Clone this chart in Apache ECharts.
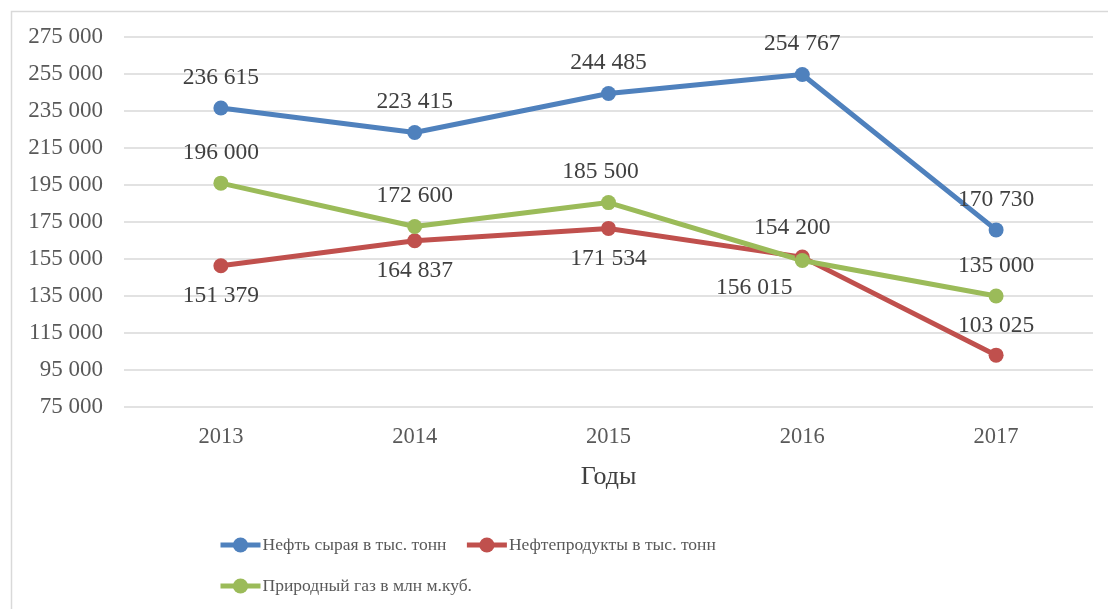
<!DOCTYPE html>
<html><head><meta charset="utf-8">
<script src="https://cdn.jsdelivr.net/npm/echarts@6/dist/echarts.min.js"></script>
<style>html,body{margin:0;padding:0;background:#fff}#c{width:1108px;height:609px}</style>
</head><body><div id="c"></div>
<script>
const years = ['2013','2014','2015','2016','2017'];
const crudeOil = [236615, 223415, 244485, 254767, 170730];
const oilProducts = [151379, 164837, 171534, 156015, 103025];
const naturalGas = [196000, 172600, 185500, 154200, 135000];
const seriesNames = ['Нефть сырая в тыс. тонн', 'Нефтепродукты в тыс. тонн', 'Природный газ в млн м.куб.'];
const xAxisName = 'Годы';

const FONT = '"Liberation Serif", "Times New Roman", serif';
const fmt = v => String(v).replace(/\B(?=(\d{3})+(?!\d))/g, ' ');

function mk(name, values, color, labelPos) {
  return {
    name: name, type: 'line', data: values.map((v, i) => {
      const p = labelPos[i];
      return { value: v, label: { position: p.pos, offset: p.off || [0, 0] } };
    }),
    symbol: 'circle', symbolSize: 15,
    lineStyle: { width: 5, color: color },
    itemStyle: { color: color },
    label: { show: true, distance: 11, fontFamily: FONT, fontSize: 23.5, color: '#404040',
      formatter: p => fmt(p.value) },
    z: 3
  };
}
const T = { pos: 'top' }, B = { pos: 'bottom' };
const legendText = { fontFamily: FONT, fontSize: 17.5, color: '#595959', padding: [0, 0, 0, -3] };
const chart = echarts.init(document.getElementById('c'));
chart.setOption({
  animation: false,
  backgroundColor: '#fff',
  graphic: [{ type: 'rect', left: 9, top: 9, shape: { width: 1200, height: 700 },
    style: { fill: 'none', stroke: '#d9d9d9', lineWidth: 1.5 }, z: -1 }],
  grid: { left: 124, right: 15, top: 37, bottom: 202 },
  legend: [
    { data: [seriesNames[0], seriesNames[1]], left: 213, top: 531, itemWidth: 40, itemHeight: 19,
      itemGap: 18, lineStyle: { width: 5 }, textStyle: legendText },
    { data: [seriesNames[2]], left: 213, top: 572, itemWidth: 40, itemHeight: 19,
      lineStyle: { width: 5 }, textStyle: legendText }
  ],
  xAxis: {
    type: 'category', data: years, boundaryGap: true,
    axisLine: { show: false }, axisTick: { show: false },
    axisLabel: { fontFamily: FONT, fontSize: 22.5, color: '#595959', margin: 19 },
    name: xAxisName, nameLocation: 'middle', nameGap: 57,
    nameTextStyle: { fontFamily: FONT, fontSize: 26, color: '#404040' }
  },
  yAxis: {
    type: 'value', min: 75000, max: 275000, interval: 20000,
    axisLine: { show: false }, axisTick: { show: false },
    axisLabel: { fontFamily: FONT, fontSize: 23, color: '#595959', margin: 21, formatter: v => fmt(v) },
    splitLine: { lineStyle: { color: '#d9d9d9', width: 1.5 } }
  },
  series: [
    mk(seriesNames[0], crudeOil, '#4F81BD', [T, T, T, T, T]),
    mk(seriesNames[1], oilProducts, '#C0504D', [B, B, B, { pos: 'bottom', off: [-48, 0] }, { pos: 'top', off: [0, 1] }]),
    mk(seriesNames[2], naturalGas, '#9BBB59', [T, T, { pos: 'top', off: [-8, 0] }, { pos: 'top', off: [-10, -2] }, T])
  ]
});
</script></body></html>
